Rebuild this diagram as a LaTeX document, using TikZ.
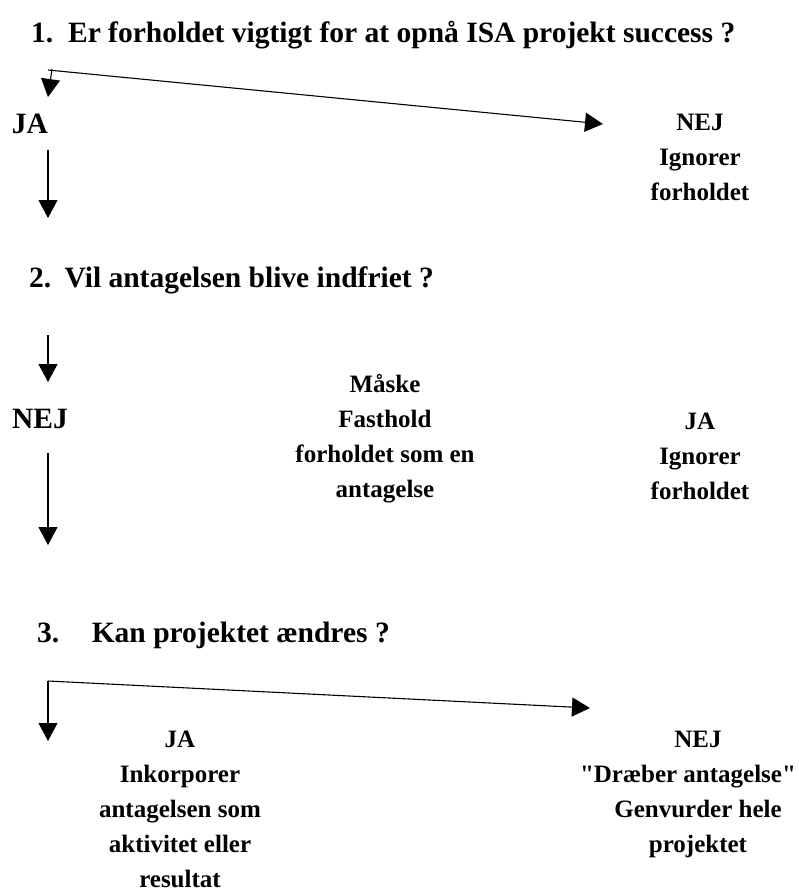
\documentclass[tikz,border=0pt]{standalone}
\usepackage{fontspec}
\setmainfont{Liberation Serif}
\usetikzlibrary{arrows.meta,positioning}
\tikzset{
  txt/.style={font=\bfseries\fontsize{29.5}{35}\selectfont, inner sep=0pt},
  question/.style={txt, anchor=base west},
  answer/.style={font=\bfseries\fontsize{25}{35}\selectfont, align=center, inner sep=0pt, anchor=north},
  flow/.style={line width=1.1pt, -{Triangle[width=19pt,length=18pt]}},
}
\begin{document}
\begin{tikzpicture}[x=1pt,y=-1pt]
  \useasboundingbox (0,0) rectangle (799,895);
  \node[question] (q1) at (31,42) {1.\hspace{0.5em}Er forholdet vigtigt for at opnå ISA projekt success ?};
  \node[txt, anchor=base] (ja1) at (30,133) {JA};
  \node[answer] (nej1) at (700,114) {NEJ\\Ignorer\\forholdet};
  \node[question] (q2) at (29,287) {2.\hspace{0.45em}Vil antagelsen blive indfriet ?};
  \node[txt, anchor=base] (nej2) at (40,428) {NEJ};
  \node[answer] (maaske) at (385,374) {Måske\\Fasthold\\forholdet som en\\antagelse};
  \node[answer] (ja2) at (700,413) {JA\\Ignorer\\forholdet};
  \node[question] (q3) at (37,642) {3.\hspace{1.1em}Kan projektet ændres ?};
  \node[answer] (ja3) at (180,731) {JA\\Inkorporer\\antagelsen som\\aktivitet eller\\resultat};
  \node[answer] (nej3) at (698,731) {NEJ\\\hspace*{-20pt}\textquotedbl Dræber antagelse\textquotedbl\\Genvurder hele\\projektet};
  \coordinate (s1) at (48,70);
  \coordinate (t1) at (603,124);
  \coordinate (s3) at (48,681);
  \draw[flow] (s1) -- (t1);
  \draw[flow] ([xshift=4pt,yshift=1pt]s1) -- (48,97);
  \draw[flow] (48,150) -- (48,218);
  \draw[flow] (48,335) -- (48,382);
  \draw[flow] (48,453) -- (48,545);
  \draw[flow] (s3) -- (590,708);
  \draw[flow] (s3) -- (48,741);
\end{tikzpicture}
\end{document}
